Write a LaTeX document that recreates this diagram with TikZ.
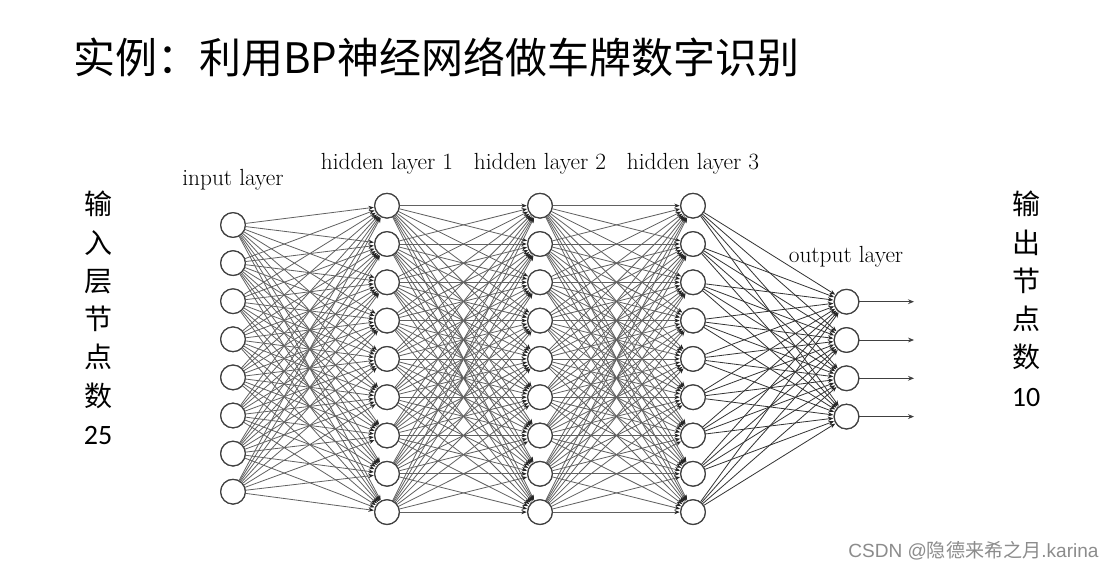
\documentclass[tikz,border=0pt]{standalone}
\usepackage{fontspec}
\newfontfamily\cjk{Noto Sans CJK SC}
\newfontfamily\carl{Carlito}
\newfontfamily\wmfont{Liberation Sans}
\usetikzlibrary{arrows.meta}
\tikzset{
  neuron/.style={circle,draw=black!75,line width=0.9pt,fill=white,inner sep=0pt,minimum size=18.5pt},
  conn/.style={draw=black!62,line width=0.6pt,-{Stealth[length=4pt,width=3.2pt,color=black!85]},shorten >=0.3pt},
  outarrow/.style={draw=black!75,line width=0.7pt,-{Stealth[length=4.5pt,width=3.6pt]}},
  layerlabel/.style={font=\fontsize{17.5}{20}\selectfont,text=black},
  sidetext/.style={font=\cjk\fontsize{21}{28.7}\selectfont,align=center,anchor=north}
}
\begin{document}
\begin{tikzpicture}[x=0.75pt,y=-0.75pt]
\useasboundingbox (0,0) rectangle (1116,571);
\fill[white] (0,0) rectangle (1116,571);
% title
\node[anchor=west,font=\cjk\fontsize{31.5}{38}\selectfont,inner sep=0pt] (title) at (73,57) {实例：利用BP神经网络做车牌数字识别};
% side texts
\node[sidetext,inner sep=0pt] (lefttext) at (98,191) {输\\入\\层\\节\\点\\数\\{\carl 25}};
\node[sidetext,inner sep=0pt] (righttext) at (1026,191) {输\\出\\节\\点\\数\\{\carl 10}};
% layer labels
\node[layerlabel] (linput) at (233,180) {input layer};
\node[layerlabel] (lh1) at (387,164) {hidden layer 1};
\node[layerlabel] (lh2) at (540,164) {hidden layer 2};
\node[layerlabel] (lh3) at (693,164) {hidden layer 3};
\node[layerlabel] (lout) at (846,257) {output layer};
% neurons
\foreach \i in {1,...,8} \node[neuron] (I\i) at (233,{225+(\i-1)*38.1}) {};
\foreach \i in {1,...,9} {
  \node[neuron] (A\i) at (387,{205.7+(\i-1)*38.3}) {};
  \node[neuron] (B\i) at (540,{205.7+(\i-1)*38.3}) {};
  \node[neuron] (C\i) at (693,{205.7+(\i-1)*38.3}) {};
}
\foreach \i in {1,...,4} \node[neuron] (O\i) at (846.5,{301.7+(\i-1)*38.3}) {};
% connections
\foreach \i in {1,...,8} \foreach \j in {1,...,9} \draw[conn] (I\i) -- (A\j);
\foreach \i in {1,...,9} \foreach \j in {1,...,9} \draw[conn] (A\i) -- (B\j);
\foreach \i in {1,...,9} \foreach \j in {1,...,9} \draw[conn] (B\i) -- (C\j);
\foreach \i in {1,...,9} \foreach \j in {1,...,4} \draw[conn,draw=black!80] (C\i) -- (O\j);
% output arrows
\foreach \i in {1,...,4} {
  \coordinate (E\i) at (914,{301.7+(\i-1)*38.3});
  \draw[outarrow] (O\i) -- (E\i);
}
% redraw neurons on top
\foreach \i in {1,...,8} \node[neuron] at (I\i) {};
\foreach \i in {1,...,9} {\node[neuron] at (A\i) {}; \node[neuron] at (B\i) {}; \node[neuron] at (C\i) {};}
\foreach \i in {1,...,4} \node[neuron] at (O\i) {};
% watermark
\node[anchor=west,font=\wmfont\fontsize{14.3}{17}\selectfont,text=black!45,inner sep=0pt] (wm) at (848,551) {CSDN @{\cjk 隐德来希之月}.karina};
\end{tikzpicture}
\end{document}
